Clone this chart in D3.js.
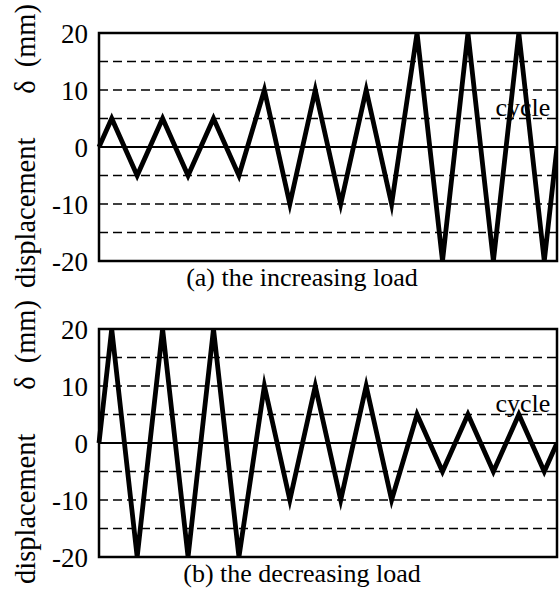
<!DOCTYPE html>
<html>
<head>
<meta charset="utf-8">
<script src="https://cdn.jsdelivr.net/npm/d3@7"></script>
<style>
  html, body { margin: 0; padding: 0; background: #fff; }
  svg { display: block; }
  text { font-family: "Liberation Serif", "Times New Roman", serif; fill: #000; }
</style>
</head>
<body>
<svg id="chart" width="559" height="596"></svg>
<script>
// ---- data ----
const steps = [0, 0.5, 1.5, 2.5, 3.5, 4.5, 5.5, 6.5, 7.5, 8.5, 9.5, 10.5, 11.5, 12.5, 13.5, 14.5, 15.5, 16.5, 17.5, 18];
const increasingLoad = [0, 5, -5, 5, -5, 5, -5, 10, -10, 10, -10, 10, -10, 20, -20, 20, -20, 20, -20, 0];
const decreasingLoad = [0, 20, -20, 20, -20, 20, -20, 10, -10, 10, -10, 10, -10, 5, -5, 5, -5, 5, -5, 0];
const yTicks = [20, 10, 0, -10, -20];
const gridValues = [15, 10, 5, -5, -10, -15];
const captions = ["(a) the increasing load", "(b) the decreasing load"];
const yTitle = ["displacement", "δ", "(mm)"];
const cycleLabel = "cycle";

// ---- layout ----
const SERIF = '"Liberation Serif", "Times New Roman", serif';
const svg = d3.select("#chart");
const left = 99, right = 557;
const panels = [
  { top: 33, bottom: 261, data: increasingLoad, caption: captions[0] },
  { top: 329, bottom: 557, data: decreasingLoad, caption: captions[1] }
];
const x = d3.scaleLinear().domain([0, 18]).range([left, right]);
const FS = 26;

panels.forEach((p, pi) => {
  const y = d3.scaleLinear().domain([-20, 20]).range([p.bottom, p.top]);
  const g = svg.append("g");

  const clipId = "clip" + pi;
  svg.append("clipPath").attr("id", clipId).append("rect")
    .attr("x", left - 3).attr("y", p.top)
    .attr("width", right - left + 3).attr("height", p.bottom - p.top);

  // dashed grid
  g.selectAll("line.grid").data(gridValues).enter().append("line")
    .attr("x1", left).attr("x2", right)
    .attr("y1", d => y(d)).attr("y2", d => y(d))
    .attr("stroke", "#000").attr("stroke-width", 1.6)
    .attr("stroke-dasharray", "9,5");

  // zero line
  g.append("line")
    .attr("x1", left).attr("x2", right)
    .attr("y1", y(0)).attr("y2", y(0))
    .attr("stroke", "#000").attr("stroke-width", 2.2);

  // cycle label
  g.append("text")
    .attr("x", x(15.5) + 2).attr("y", y(5) - 3)
    .style("font-family", SERIF)
    .attr("font-size", FS)
    .text(cycleLabel);

  // axis labels
  const axis = d3.axisLeft(y).tickValues(yTicks).tickSize(0).tickPadding(11)
    .tickFormat(d => String(d));
  const ax = g.append("g").attr("transform", `translate(${left},0)`).call(axis);
  ax.select(".domain").remove();
  ax.selectAll("text")
    .style("font-family", SERIF)
    .attr("font-size", 27)
    .attr("fill", "#000")
    .attr("dy", "0.34em");

  // load history line
  const line = d3.line().x((d, i) => x(steps[i])).y(d => y(d));
  g.append("path")
    .datum(p.data)
    .attr("d", line)
    .attr("clip-path", `url(#${clipId})`)
    .attr("fill", "none")
    .attr("stroke", "#000")
    .attr("stroke-width", 4.8)
    .attr("stroke-linejoin", "miter")
    .attr("stroke-miterlimit", 10);

  // frame
  g.append("rect")
    .attr("x", left).attr("y", p.top)
    .attr("width", right - left).attr("height", p.bottom - p.top)
    .attr("fill", "none").attr("stroke", "#000").attr("stroke-width", 2.5);

  // caption
  g.append("text")
    .attr("x", 302).attr("y", p.bottom + 25)
    .attr("text-anchor", "middle")
    .style("font-family", SERIF)
    .attr("font-size", FS)
    .text(p.caption);

  // y title (rotated, three parts)
  const titleParts = [
    { text: yTitle[0], pos: p.bottom + 27, anchor: "start" },
    { text: yTitle[1], pos: p.top + 54, anchor: "middle" },
    { text: yTitle[2], pos: p.top - 29, anchor: "end" }
  ];
  g.selectAll("text.ytitle").data(titleParts).enter().append("text")
    .attr("class", "ytitle")
    .attr("transform", d => `translate(35,${d.pos}) rotate(-90)`)
    .attr("text-anchor", d => d.anchor)
    .style("font-family", SERIF)
    .attr("font-size", 28.5)
    .text(d => d.text);
});
</script>
</body>
</html>
